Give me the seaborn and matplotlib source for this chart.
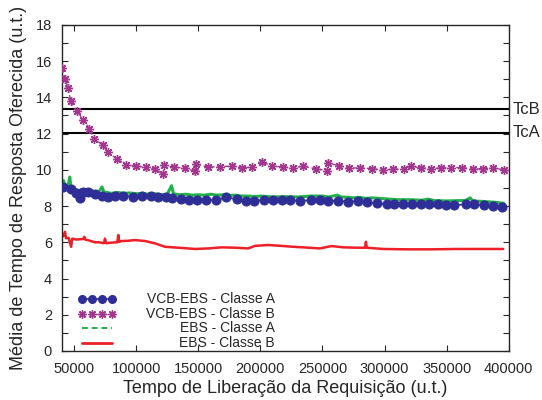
import matplotlib
matplotlib.use('Agg')
import matplotlib.pyplot as plt
import seaborn as sns

# Data
vcb_a_x = [41300, 47200, 51300, 54700, 57400, 61400, 66800, 72700, 77500, 82900,
           89600, 97600, 104400, 111600, 117800, 124000, 129200, 136000, 142500, 149200,
           156200, 164200, 172300, 180900, 188400, 195000, 203100, 210300, 217100, 224200,
           231800, 240700, 247900, 254600, 262700, 270700, 278800, 285500, 293600, 301600,
           307500, 315000, 322200, 329200, 335900, 343200, 349400, 356100, 365200, 372200,
           380200, 387400, 394200]
vcb_a_y = [9.03, 8.94, 8.73, 8.42, 8.75, 8.75, 8.64, 8.57, 8.48, 8.55,
           8.57, 8.51, 8.57, 8.55, 8.51, 8.48, 8.46, 8.37, 8.33, 8.33,
           8.33, 8.33, 8.48, 8.38, 8.29, 8.29, 8.33, 8.33, 8.33, 8.35,
           8.27, 8.33, 8.33, 8.29, 8.29, 8.24, 8.27, 8.20, 8.15, 8.11,
           8.11, 8.11, 8.11, 8.11, 8.11, 8.09, 8.05, 8.05, 8.09, 8.09,
           8.05, 8.01, 7.96]

vcb_b_x = [40500, 42700, 45300, 47200, 52100, 57400, 62200, 66200, 73000, 77500,
           84300, 91500, 99600, 107600, 115100, 121800, 122600, 130600, 139300, 147300,
           147900, 158000, 167400, 176900, 185400, 193200, 201200, 209300, 218100, 226200,
           234500, 244500, 253800, 254600, 263200, 271500, 280100, 289600, 298900, 306500,
           315600, 321200, 329200, 337300, 345300, 353900, 362500, 371300, 379400, 387400,
           396000]
vcb_b_y = [15.6, 15.0, 14.5, 13.8, 13.26, 12.77, 12.26, 11.7, 11.37, 10.97,
           10.6, 10.29, 10.2, 10.14, 10.05, 9.74, 10.24, 10.14, 10.09, 9.92,
           10.33, 10.14, 10.18, 10.2, 10.1, 10.15, 10.45, 10.2, 10.15, 10.1,
           10.2, 10.05, 9.96, 10.36, 10.23, 10.1, 10.1, 10.07, 9.98, 10.03,
           10.03, 10.2, 10.1, 10.07, 10.1, 10.12, 10.12, 10.03, 10.07, 10.1,
           10.0]

ebs_a_x = [40500, 41500, 43000, 45000, 46500, 47500, 50000, 53000, 56000, 60000,
           63000, 66000, 70000, 72500, 74000, 80000, 85000, 90000, 95000, 100000,
           105000, 110000, 115000, 120000, 125000, 128500, 130000, 135000, 140000, 145000,
           150000, 155000, 160000, 165000, 170000, 175000, 180000, 185000, 190000, 195000,
           200000, 210000, 220000, 230000, 240000, 250000, 255000, 262000, 265000, 270000,
           275000, 280000, 285000, 290000, 300000, 310000, 320000, 330000, 335000, 340000,
           350000, 360000, 365000, 369000, 371000, 380000, 390000, 396000]
ebs_a_y = [9.2, 9.4, 9.1, 9.05, 9.6, 9.0, 8.95, 8.85, 8.9, 8.85,
           8.9, 8.8, 8.8, 9.05, 8.78, 8.7, 8.75, 8.7, 8.72, 8.68,
           8.7, 8.65, 8.68, 8.62, 8.65, 9.12, 8.68, 8.62, 8.65, 8.6,
           8.62, 8.6, 8.65, 8.6, 8.62, 8.58, 8.6, 8.55, 8.55, 8.52,
           8.55, 8.5, 8.52, 8.5, 8.55, 8.55, 8.5, 8.6, 8.5, 8.48,
           8.45, 8.48, 8.42, 8.45, 8.4, 8.35, 8.35, 8.32, 8.38, 8.3,
           8.28, 8.3, 8.3, 8.45, 8.28, 8.25, 8.2, 8.15]

ebs_b_x = [40000, 41500, 42700, 43500, 45500, 47600, 48500, 52000, 57400, 58200,
           59000, 62000, 66800, 70000, 74000, 74900, 75800, 80000, 84800, 85600,
           86400, 88300, 93000, 99000, 107100, 115100, 123200, 133900, 141900, 147300,
           158000, 168800, 179500, 190200, 195600, 206300, 217100, 226400, 234500, 247900,
           257400, 266700, 277500, 284300, 285000, 285700, 298900, 317700, 336500, 358000,
           379400, 395500]
ebs_b_y = [6.3, 6.35, 6.58, 6.22, 6.25, 5.75, 6.2, 6.15, 6.18, 6.3,
           6.15, 6.1, 6.0, 6.0, 5.95, 6.2, 5.95, 5.98, 6.0, 6.4,
           6.02, 6.07, 6.08, 6.12, 6.07, 5.94, 5.75, 5.7, 5.66, 5.63,
           5.66, 5.72, 5.7, 5.66, 5.8, 5.85, 5.8, 5.75, 5.72, 5.66,
           5.79, 5.72, 5.7, 5.7, 6.03, 5.7, 5.63, 5.61, 5.61, 5.63,
           5.63, 5.63]

series_labels = ['VCB-EBS - Classe A', 'VCB-EBS - Classe B', 'EBS - Classe A', 'EBS - Classe B']
tcb, tca = 13.35, 12.05

sns.set_style('ticks')
plt.rcParams['font.family'] = ['Liberation Sans', 'DejaVu Sans']

fig = plt.figure(figsize=(5.42, 4.0), dpi=100)
ax = fig.add_axes([0.1138, 0.1225, 0.8248, 0.8155])

navy = '#2e2e96'
purple = '#a3368e'
green = '#22b04a'
red = '#ee1f26'

sns.lineplot(x=ebs_a_x, y=ebs_a_y, ax=ax, sort=False, estimator=None, color=green,
             lw=2.2, label='_ebs_a', zorder=2)
sns.lineplot(x=vcb_a_x, y=vcb_a_y, ax=ax, sort=False, estimator=None, color=navy,
             lw=1.2, marker='o', markersize=6.5, markeredgecolor=navy, label='_vcb_a', zorder=3)
sns.lineplot(x=vcb_b_x, y=vcb_b_y, ax=ax, sort=False, estimator=None, color=purple,
             lw=1.0, linestyle=(0, (3, 2)), marker=(8, 2, 0), markersize=6.5,
             markeredgewidth=1.0, markeredgecolor=purple, label='_vcb_b', zorder=3)
sns.lineplot(x=ebs_b_x, y=ebs_b_y, ax=ax, sort=False, estimator=None, color=red,
             lw=1.8, label='_ebs_b', zorder=2)

ax.axhline(tcb, color='black', lw=1.5)
ax.axhline(tca, color='black', lw=1.5)
ax.text(1.008, tcb, 'TcB', transform=ax.get_yaxis_transform(), va='center', ha='left',
        fontsize=12, clip_on=False)
ax.text(1.008, tca, 'TcA', transform=ax.get_yaxis_transform(), va='center', ha='left',
        fontsize=12, clip_on=False)

ax.set_xlim(40000, 400000)
ax.set_ylim(0, 18)
ax.set_xticks(range(50000, 400001, 50000))
ax.set_yticks(range(0, 19, 2))
ax.set_yticks(range(1, 18, 2), minor=True)
ax.tick_params(which='both', direction='in', top=True, right=True, length=4,
               width=0.8, labelsize=10.5)
ax.tick_params(axis='x', pad=8)
ax.tick_params(axis='y', pad=7)
for s in ax.spines.values():
    s.set_linewidth(1.0)

ax.set_xlabel('Tempo de Liberação da Requisição (u.t.)', fontsize=13, labelpad=3)
ax.set_ylabel('Média de Tempo de Resposta Oferecida (u.t.)', fontsize=13, labelpad=6)

# legend samples (gnuplot style), labels drawn right-aligned next to them
h_a = plt.Line2D([], [], color=navy, lw=1.2, marker='o', markersize=5.5)
h_b = plt.Line2D([], [], color=purple, lw=1.0, linestyle=(0, (3, 2)), marker=(8, 2, 0),
                 markersize=6, markeredgewidth=1.0)
h_c = plt.Line2D([], [], color=green, lw=1.4, linestyle=(0, (3, 2)))
h_d = plt.Line2D([], [], color=red, lw=2.0)
leg = ax.legend([h_a, h_b, h_c, h_d], ['', '', '', ''], loc='lower left',
                bbox_to_anchor=(0.036, 0.003), frameon=False, fontsize=9,
                numpoints=4, handlelength=3.0, labelspacing=0.2, handletextpad=0.0,
                borderpad=0.0, borderaxespad=0.0)
fig.canvas.draw()
renderer = fig.canvas.get_renderer()
inv = ax.transAxes.inverted()
for h, lab in zip(leg.legend_handles, series_labels):
    bb = h.get_window_extent(renderer)
    yc = inv.transform((0, (bb.y0 + bb.y1) / 2))[1]
    ax.text(0.477, yc, lab, transform=ax.transAxes, ha='right', va='center', fontsize=10)

fig.savefig('out.png', dpi=100)
plt.close(fig)
